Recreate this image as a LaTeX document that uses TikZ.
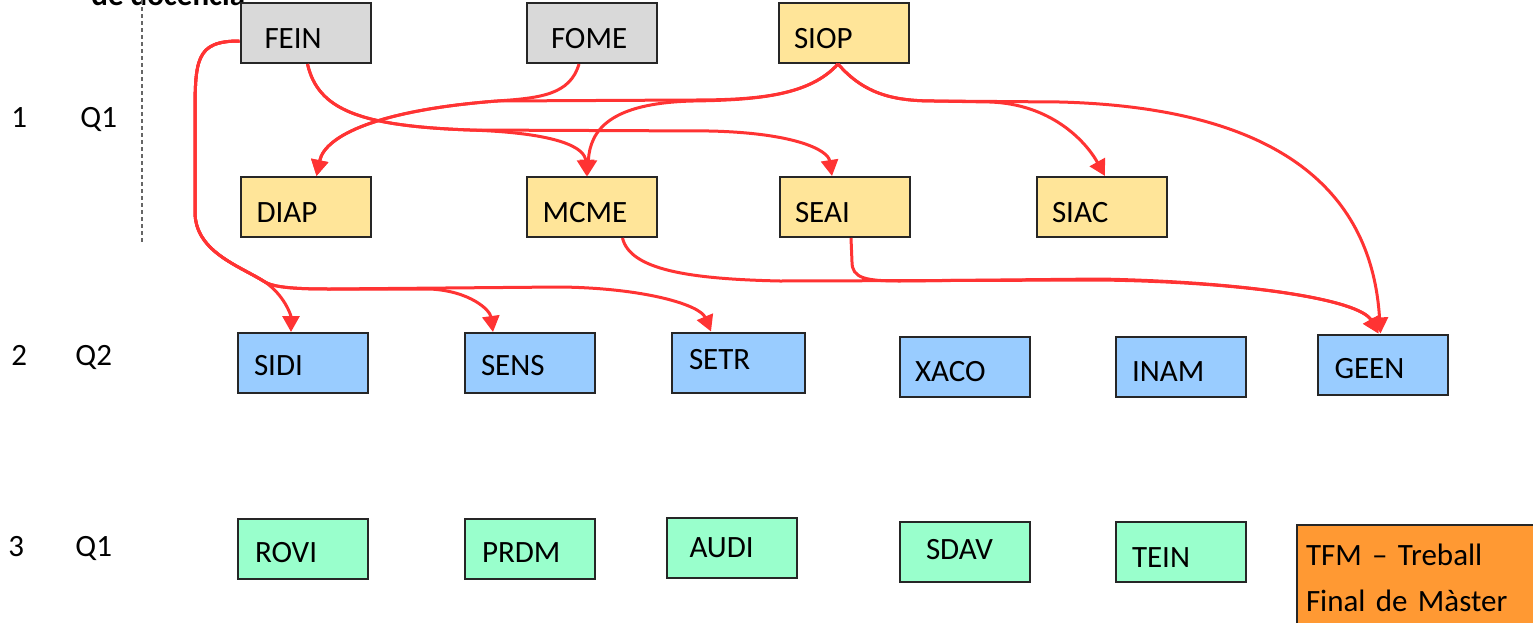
\documentclass[tikz,border=0pt]{standalone}
\usepackage{fontspec}
\setmainfont{Carlito}
\usetikzlibrary{arrows.meta,calc}
\definecolor{grayfill}{HTML}{D9D9D9}
\definecolor{yelfill}{HTML}{FFE599}
\definecolor{bluefill}{HTML}{99CCFF}
\definecolor{greenfill}{HTML}{99FFCC}
\definecolor{tfmorange}{HTML}{FF9933}
\definecolor{arrred}{HTML}{FF3333}
\newcommand\boxlbl[2]{\hspace*{#1pt}#2}
\begin{document}
\begin{tikzpicture}[x=0.5pt,y=-0.5pt,
  font=\fontsize{15.5}{18}\selectfont,
  box/.style={draw=black!85, line width=1pt, minimum width=65pt, minimum height=30pt,
    text width=65pt, inner xsep=0pt, inner ysep=0pt, align=left,
    text height=15pt, text depth=0pt},
  tpos/.style 2 args={text height=#1, text depth=#2},
  gbox/.style={box, fill=grayfill},
  ybox/.style={box, fill=yelfill},
  bbox/.style={box, fill=bluefill},
  cbox/.style={box, fill=greenfill},
  lbl/.style={anchor=base west, inner sep=0pt},
  arr/.style={draw=arrred, line width=1.5pt, -{Triangle[length=8pt,width=8.5pt]}},
  sepline/.style={draw=black!60, line width=0.6pt, dash pattern=on 2pt off 1.5pt}]
\useasboundingbox (0,0) rectangle (1533,622);
\clip (0,0) rectangle (1533,622);

% title remnant and separator
\node[lbl, font=\bfseries\fontsize{15.5}{18}\selectfont] (title) at (91,5) {de docencia};
\draw[sepline] (142,0) -- (142,243);

% row labels
\node[lbl] (n1) at (11,127) {1};
\node[lbl] (q1a) at (80,127) {Q1};
\node[lbl] (n2) at (11,365) {2};
\node[lbl] (q2) at (75,365) {Q2};
\node[lbl] (n3) at (8,556) {3};
\node[lbl] (q1b) at (75,556) {Q1};

% top row
\node[gbox] (fein) at (305.5,33) {\boxlbl{12}{FEIN}};
\node[gbox] (fome) at (592,33) {\boxlbl{12}{FOME}};
\node[ybox] (siop) at (844,33) {\boxlbl{7.5}{SIOP}};

% row 1 second line
\node[ybox] (diap) at (305.5,207) {\boxlbl{8}{DIAP}};
\node[ybox] (mcme) at (591.5,207) {\boxlbl{8}{MCME}};
\node[ybox] (seai) at (845,207) {\boxlbl{7.5}{SEAI}};
\node[ybox] (siac) at (1102,207) {\boxlbl{7.5}{SIAC}};

% row 2
\node[bbox, tpos={13.75pt}{1.25pt}] (sidi) at (303,363) {\boxlbl{8}{SIDI}};
\node[bbox, tpos={13.75pt}{1.25pt}] (sens) at (530,363) {\boxlbl{8}{SENS}};
\node[bbox, tpos={10.75pt}{4.25pt}, minimum width=66.5pt, text width=66.5pt] (setr) at (738.5,362.5) {\boxlbl{8.5}{SETR}};
\node[bbox, tpos={14.75pt}{0.25pt}] (xaco) at (965,366.5) {\boxlbl{7.5}{XACO}};
\node[bbox, tpos={14.75pt}{0.25pt}] (inam) at (1181,366.5) {\boxlbl{8}{INAM}};
\node[bbox, tpos={14.5pt}{0.5pt}] (geen) at (1382.5,364.5) {\boxlbl{8.5}{GEEN}};

% row 3
\node[cbox, tpos={14pt}{1pt}] (rovi) at (303,549) {\boxlbl{8.5}{ROVI}};
\node[cbox, tpos={14pt}{1pt}] (prdm) at (530,549) {\boxlbl{8.5}{PRDM}};
\node[cbox, tpos={12pt}{3pt}] (audi) at (731.5,548) {\boxlbl{11.5}{AUDI}};
\node[cbox, tpos={11.5pt}{3.5pt}] (sdav) at (965,551.5) {\boxlbl{13}{SDAV}};
\node[cbox] (tein) at (1181,552) {\boxlbl{8}{TEIN}};
\node[draw=black!85, line width=1pt, fill=tfmorange, anchor=north west,
  inner xsep=4.5pt, inner ysep=0pt, text width=130pt, align=left,
  font=\fontsize{15.5}{23}\selectfont] (tfm) at (1296,524)
  {\rule{0pt}{20pt}TFM – Treball\\Final de Màster\rule[-15pt]{0pt}{15pt}};

% connectors
% FEIN -> SIDI, SENS, SETR
\draw[arr] ($(fein.west)+(0,8)$) .. controls (195,41) and (195,60) .. (195,120)
  -- (195,212) .. controls (195,252) and (240,266) .. (265,282)
  .. controls (284,295) and (291,315) .. ($(sidi.north west)+(54,0)$);
\draw[arr] ($(fein.west)+(0,8)$) .. controls (195,41) and (195,60) .. (195,120)
  -- (195,212) .. controls (195,252) and (240,266) .. (265,282)
  .. controls (275,288) and (300,289) .. (330,289) -- (430,289)
  .. controls (470,291) and (490,310) .. ($(sens.north west)+(29,0)$);
\draw[arr] ($(fein.west)+(0,8)$) .. controls (195,41) and (195,60) .. (195,120)
  -- (195,212) .. controls (195,252) and (240,266) .. (265,282)
  .. controls (275,288) and (300,289) .. (330,289) -- (560,287)
  .. controls (645,288) and (700,305) .. ($(setr.north west)+(40,0)$);

% FEIN -> MCME, SEAI
\draw[arr] ($(fein.south west)+(68,0)$) .. controls (318,110) and (360,126) .. (470,130)
  .. controls (560,133) and (585,148) .. ($(mcme.north west)+(61,0)$);
\draw[arr] ($(fein.south west)+(68,0)$) .. controls (318,110) and (360,126) .. (470,130)
  -- (710,131) .. controls (795,133) and (828,150) .. ($(seai.north west)+(53,0)$);

% FOME -> DIAP, SIOP -> DIAP
\draw[arr] ($(fome.south west)+(53,0)$) .. controls (570,95) and (540,98) .. (497,101)
  .. controls (380,110) and (325,135) .. ($(diap.north west)+(77,0)$);
\draw[arr] ($(siop.south west)+(60,0)$) .. controls (810,95) and (760,100) .. (693,100)
  -- (497,101) .. controls (380,110) and (325,135) .. ($(diap.north west)+(77,0)$);

% SIOP -> MCME
\draw[arr] ($(siop.south west)+(60,0)$) .. controls (810,95) and (760,100) .. (693,101)
  .. controls (610,103) and (590,130) .. ($(mcme.north west)+(62,0)$);

% SIOP -> SIAC, GEEN
\draw[arr] ($(siop.south west)+(60,0)$) .. controls (865,95) and (895,101) .. (935,101)
  -- (990,102) .. controls (1050,104) and (1085,140) .. ($(siac.north west)+(69,0)$);
\draw[arr] ($(siop.south west)+(60,0)$) .. controls (865,95) and (895,101) .. (935,101)
  -- (1060,102) .. controls (1285,108) and (1372,195) .. ($(geen.north west)+(64,0)$);

% SEAI -> GEEN, MCME -> GEEN
\draw[arr] ($(seai.south west)+(72,0)$) -- (852,262) .. controls (852,278) and (865,281) .. (900,281)
  -- (1100,279) .. controls (1250,282) and (1360,300) .. ($(geen.north west)+(62,0)$);
\draw[arr] ($(mcme.south west)+(97,0)$) .. controls (630,270) and (690,279) .. (780,281)
  -- (1100,280) .. controls (1250,282) and (1360,300) .. ($(geen.north west)+(62,0)$);
\end{tikzpicture}
\end{document}
